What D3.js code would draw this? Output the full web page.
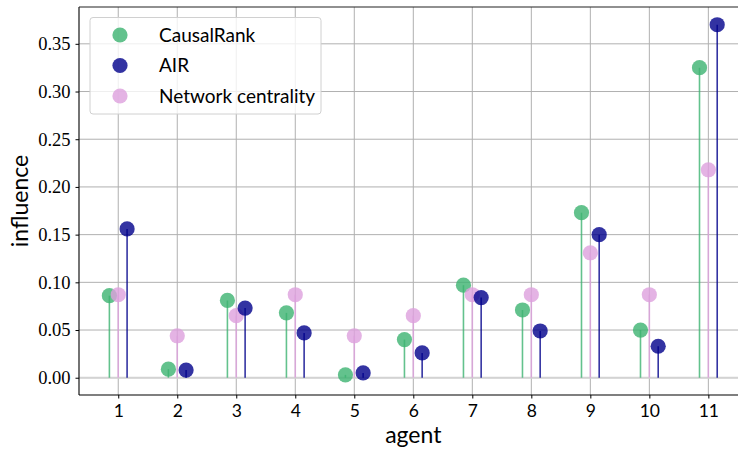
<!DOCTYPE html>
<html>
<head>
<meta charset="utf-8">
<script src="https://cdn.jsdelivr.net/npm/d3@7"></script>
<style>
  html, body { margin: 0; padding: 0; background: #fff; }
  svg { display: block; }
</style>
</head>
<body>
<svg id="chart" width="738" height="453"></svg>
<script>
// Influence per agent, three methods
const agents = [1, 2, 3, 4, 5, 6, 7, 8, 9, 10, 11];
const causalRank = [0.086, 0.009, 0.081, 0.068, 0.003, 0.040, 0.097, 0.071, 0.173, 0.050, 0.325];
const air = [0.156, 0.008, 0.073, 0.047, 0.005, 0.026, 0.084, 0.049, 0.150, 0.033, 0.370];
const networkCentrality = [0.087, 0.044, 0.065, 0.087, 0.044, 0.065, 0.087, 0.087, 0.131, 0.087, 0.218];
const yTicks = [0.00, 0.05, 0.10, 0.15, 0.20, 0.25, 0.30, 0.35];

const series = [
  { name: "CausalRank", values: causalRank, offset: -0.15, color: "#3cb371" },
  { name: "Network centrality", values: networkCentrality, offset: 0, color: "#dda0dd" },
  { name: "AIR", values: air, offset: 0.15, color: "#00008b" }
];
const legendOrder = ["CausalRank", "AIR", "Network centrality"];

const svg = d3.select("#chart");
const plotLeft = 79, plotTop = 7, plotBottom = 395, plotRight = 747.6;

const x = d3.scaleLinear().domain([0.335, 11.665]).range([plotLeft, plotRight]);
const y = d3.scaleLinear().domain([-0.0181, 0.3886]).range([plotBottom, plotTop]);

const serif = "'Liberation Serif', 'DejaVu Serif', serif";
const sans = "Lato, 'Open Sans', sans-serif";

// grid
const grid = svg.append("g");
grid.selectAll("line.gy").data(yTicks).join("line")
  .attr("x1", plotLeft).attr("x2", plotRight)
  .attr("y1", d => y(d)).attr("y2", d => y(d))
  .attr("stroke", "#b0b0b0").attr("stroke-width", 1);
grid.selectAll("line.gx").data(agents).join("line")
  .attr("x1", d => x(d)).attr("x2", d => x(d))
  .attr("y1", plotTop).attr("y2", plotBottom)
  .attr("stroke", "#b0b0b0").attr("stroke-width", 1);

// stem baseline
svg.append("line")
  .attr("x1", plotLeft).attr("x2", plotRight)
  .attr("y1", y(0)).attr("y2", y(0))
  .attr("stroke", "#d3d3d3").attr("stroke-width", 2.2);

// stems and markers
series.forEach(s => {
  const g = svg.append("g");
  g.selectAll("line").data(agents).join("line")
    .attr("x1", (d) => x(d + s.offset)).attr("x2", (d) => x(d + s.offset))
    .attr("y1", y(0)).attr("y2", (d, i) => y(s.values[i]))
    .attr("stroke", s.color).attr("stroke-opacity", 0.8).attr("stroke-width", 1.6);
  g.selectAll("circle").data(agents).join("circle")
    .attr("cx", (d) => x(d + s.offset))
    .attr("cy", (d, i) => y(s.values[i]))
    .attr("r", 7.6)
    .attr("fill", s.color).attr("fill-opacity", 0.8);
});

// axes
const yAxis = d3.axisLeft(y).tickValues(yTicks).tickFormat(d3.format(".2f")).tickSize(3.5).tickPadding(5);
const gy = svg.append("g").attr("transform", `translate(${plotLeft},0)`).call(yAxis);
gy.select(".domain").remove();
gy.selectAll("text").attr("font-family", serif).attr("font-size", 18.5).attr("fill", "#000");
gy.selectAll("line").attr("stroke", "#000").attr("stroke-width", 1);

const xAxis = d3.axisBottom(x).tickValues(agents).tickFormat(d3.format("d")).tickSize(3.5).tickPadding(6);
const gx = svg.append("g").attr("transform", `translate(0,${plotBottom})`).call(xAxis);
gx.select(".domain").remove();
gx.selectAll("text").attr("font-family", sans).attr("font-size", 17.5).attr("fill", "#000");
gx.selectAll("line").attr("stroke", "#000").attr("stroke-width", 1);

// spines
svg.append("line").attr("x1", plotLeft).attr("x2", plotLeft).attr("y1", plotTop).attr("y2", plotBottom)
  .attr("stroke", "#000").attr("stroke-width", 1.1);
svg.append("line").attr("x1", plotLeft).attr("x2", plotRight).attr("y1", plotBottom).attr("y2", plotBottom)
  .attr("stroke", "#000").attr("stroke-width", 1.1);
svg.append("line").attr("x1", plotLeft).attr("x2", plotRight).attr("y1", plotTop).attr("y2", plotTop)
  .attr("stroke", "#222").attr("stroke-width", 1.1);

// axis titles
svg.append("text").attr("x", (plotLeft + plotRight) / 2).attr("y", 443)
  .attr("text-anchor", "middle").attr("font-family", sans).attr("font-size", 23)
  .attr("fill", "#000").text("agent");
svg.append("text").attr("transform", `translate(28,${(plotTop + plotBottom) / 2}) rotate(-90)`)
  .attr("text-anchor", "middle").attr("font-family", sans).attr("font-size", 23)
  .attr("fill", "#000").text("influence");

// legend
const lg = svg.append("g");
lg.append("rect").attr("x", 90).attr("y", 17.5).attr("width", 231).attr("height", 96.5)
  .attr("rx", 3).attr("fill", "#fff").attr("fill-opacity", 0.8)
  .attr("stroke", "#d0d0d0").attr("stroke-width", 1);
legendOrder.forEach((name, i) => {
  const s = series.find(d => d.name === name);
  const cy = 35 + i * 30.5;
  lg.append("circle").attr("cx", 120).attr("cy", cy).attr("r", 7.6)
    .attr("fill", s.color).attr("fill-opacity", 0.8);
  lg.append("text").attr("x", 159).attr("y", cy + 6.5)
    .attr("font-family", sans).attr("font-size", 19).attr("fill", "#000").text(name);
});
</script>
</body>
</html>
